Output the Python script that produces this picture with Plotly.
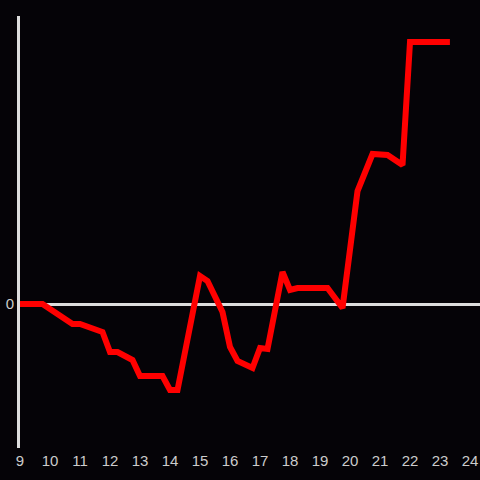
import plotly.graph_objects as go

hours = [9.0, 9.75, 10.75, 11.0, 11.75, 12.0, 12.25, 12.75, 13.0, 13.75, 14.0, 14.25,
         15.0, 15.25, 15.75, 16.0, 16.25, 16.75, 17.0, 17.25, 17.75, 18.0, 18.25,
         19.25, 19.75, 20.25, 20.75, 21.25, 21.75, 22.0, 23.33]
values = [0, 0, -20, -20, -28, -48, -48, -56, -72, -72, -86, -86,
          28, 23, -8, -43, -57, -64, -44, -45, 32, 14, 16,
          16, -4, 113, 150, 149, 139, 262, 262]
tick_vals = list(range(9, 25))
tick_text = [str(v) for v in tick_vals]

fig = go.Figure()
fig.add_trace(go.Scatter(x=hours, y=values, mode="lines",
                         line=dict(color="#ff0000", width=6), hoverinfo="skip"))

fig.update_layout(
    width=480, height=480,
    margin=dict(l=20, r=0, t=16, b=32),
    paper_bgcolor="#050307", plot_bgcolor="#050307",
    showlegend=False,
    font=dict(family="Liberation Sans, Arial, sans-serif", size=15, color="#cccccc"),
    xaxis=dict(range=[9, 24.333], tickvals=tick_vals, ticktext=tick_text,
               showgrid=False, zeroline=False, showline=False, ticks="",
               ticklabelstandoff=2),
    yaxis=dict(range=[-144, 288], tickvals=[0], ticktext=["0"],
               showgrid=False, zeroline=True, zerolinecolor="#dddddd", zerolinewidth=3,
               showline=True, linecolor="#dddddd", linewidth=3, ticks=""),
)

fig.write_html(
    "out.html",
    config={"displayModeBar": False},
    post_script="document.body.style.margin='0';document.body.style.background='#050307';",
)
